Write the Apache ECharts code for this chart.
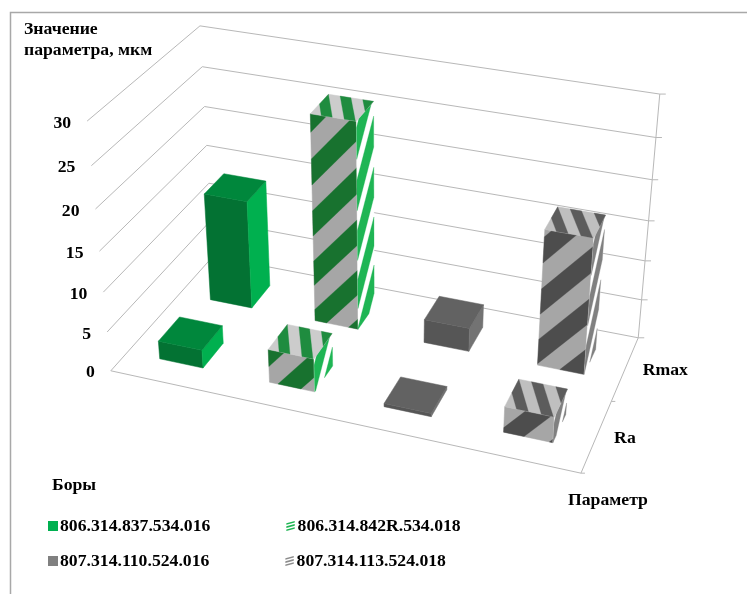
<!DOCTYPE html>
<html>
<head>
<meta charset="utf-8">
<style>html,body{margin:0;padding:0;background:#fff}#chart{width:747px;height:594px}</style>
<script src="https://cdn.jsdelivr.net/npm/echarts@6/dist/echarts.min.js"></script>
</head>
<body>
<div id="chart"></div>
<script>
// Surface roughness of the burs, one row of columns per parameter.
const bores = ['806.314.837.534.016', '806.314.842R.534.018', '807.314.110.524.016', '807.314.113.524.018'];
const params = ['Ra', 'Rmax'];
const valueTicks = [0, 5, 10, 15, 20, 25, 30];
const bore837 = [2.3, 13.9];
const bore842 = [4.2, 26];
const bore110 = [0.4, 3];
const bore113 = [3.2, 17];

const FONT = '"Liberation Serif", "Times New Roman", serif';
const FONT_SIZE = 17.7;
const LABEL_FONT = 'bold ' + FONT_SIZE + 'px ' + FONT;
const GRID_COLOR = '#b8b8b8';

// Perspective camera: a 3x4 projection fitted to the corners of the plot box.
// Box coordinates: u along the burs, v into the depth, w up the value axis.
const boxCorners = [
  [0, 0, 0, 110, 371], [1, 0, 0, 581, 473], [0, 1, 0, 214, 256], [1, 1, 0, 638, 338],
  [0, 0, 1, 88, 121], [0, 1, 1, 199, 26], [1, 1, 1, 660, 94]
];
function fitCamera(pts) {
  const rows = [];
  pts.forEach(([u, v, w, x, y]) => {
    rows.push([u, v, w, 1, 0, 0, 0, 0, -x * u, -x * v, -x * w, x]);
    rows.push([0, 0, 0, 0, u, v, w, 1, -y * u, -y * v, -y * w, y]);
  });
  const n = 11;
  const m = [];
  for (let i = 0; i < n; i++) {
    m.push([]);
    for (let j = 0; j <= n; j++) {
      m[i].push(rows.reduce((s, r) => s + r[i] * r[j], 0));
    }
  }
  for (let i = 0; i < n; i++) {
    let best = i;
    for (let k = i + 1; k < n; k++) if (Math.abs(m[k][i]) > Math.abs(m[best][i])) best = k;
    [m[i], m[best]] = [m[best], m[i]];
    for (let k = 0; k < n; k++) {
      if (k === i) continue;
      const f = m[k][i] / m[i][i];
      for (let j = i; j <= n; j++) m[k][j] -= f * m[i][j];
    }
  }
  return m.map((r, i) => r[n] / r[i]);
}
const cam = fitCamera(boxCorners);
function project(u, v, w) {
  const d = cam[8] * u + cam[9] * v + cam[10] * w + 1;
  return [(cam[0] * u + cam[1] * v + cam[2] * w + cam[3]) / d,
          (cam[4] * u + cam[5] * v + cam[6] * w + cam[7]) / d];
}

// Clip a polygon in face coordinates to 0 <= b <= limit.
function clipBand(poly, limit) {
  const cut = (pts, inside, cross) => {
    const out = [];
    pts.forEach((p, i) => {
      const q = pts[(i + 1) % pts.length];
      if (inside(p)) out.push(p);
      if (inside(p) !== inside(q)) out.push(cross(p, q));
    });
    return out;
  };
  const at = level => (p, q) => {
    const t = (level - p[1]) / (q[1] - p[1]);
    return [p[0] + t * (q[0] - p[0]), level];
  };
  return cut(cut(poly, p => p[1] >= 0, at(0)), p => p[1] <= limit, at(limit));
}

// One box face: a plain fill, or alternating bands laid over the base colour.
// Bands are anchored at the far end of the face (its top edge on the uprights).
function faceShapes(toBox, length, look, offset, z) {
  const toScreen = pts => pts.map(([a, b]) => {
    const s = toBox(a, b / length);
    return project(s[0], s[1], s[2]);
  });
  const shapes = [{
    type: 'polygon', z2: z,
    shape: { points: toScreen([[0, 0], [1, 0], [1, length], [0, length]]) },
    style: { fill: look.base, stroke: look.base, lineWidth: 0.5 }
  }];
  if (!look.band) return shapes;
  const reach = Math.ceil((Math.abs(look.rise) + length) / look.period) + 1;
  for (let k = -1; k <= reach; k++) {
    const c = length - offset - look.width - k * look.period;
    const band = clipBand([[0, c], [1, c + look.rise], [1, c + look.rise + look.width], [0, c + look.width]], length);
    if (band.length < 3) continue;
    shapes.push({
      type: 'polygon', z2: z + 1,
      shape: { points: toScreen(band) },
      style: { fill: look.band, stroke: look.band, lineWidth: 0.3 }
    });
  }
  return shapes;
}

const BAR_SHARE = 0.4;
const PX_PER_UNIT = 8;
const TOP_SPAN = 46;

function columnRenderer(looks) {
  return function (params_, api) {
    const area = params_.coordSys;
    const bore = api.value(0), value = api.value(1), row = api.value(2);
    const mid = (api.coord([bore, 0])[0] - area.x) / area.width;
    const half = (api.size([1, 0])[0] / area.width) * BAR_SHARE / 2;
    const u0 = mid - half, u1 = mid + half;
    const vMid = (row + 0.5) / params.length;
    const vHalf = BAR_SHARE / params.length / 2;
    const v0 = vMid - vHalf, v1 = vMid + vHalf;
    const h = (area.y + area.height - api.coord([bore, value])[1]) / area.height;
    const z = (params.length - row) * 1000 + bore * 10;
    const height = value * PX_PER_UNIT;
    const off = looks.offsets ? looks.offsets[row] : [0, 0, 0];
    const children = [].concat(
      faceShapes((a, b) => [u0 + a * (u1 - u0), v0, b * h], height, looks.front, off[0], z),
      faceShapes((a, b) => [u1, v0 + a * (v1 - v0), b * h], height, looks.side, off[1], z + 2),
      faceShapes((a, b) => [u0 + b * (u1 - u0), v1 - a * (v1 - v0), h], TOP_SPAN, looks.top, off[2], z + 4)
    );
    return { type: 'group', children };
  };
}

function solid(front, side, top) {
  return { front: { base: front }, side: { base: side }, top: { base: top } };
}
function striped(c, offsets) {
  return {
    offsets,
    front: { base: c.grey, band: c.dark, period: 51, width: 25.5, rise: 50 },
    side: { base: '#ffffff', band: c.side, period: 50, width: 30, rise: 42 },
    top: { base: c.light, band: c.topDark, period: 23, width: 11, rise: 22 }
  };
}

const barSeries = [
  { name: bores[0], values: bore837, color: '#00b050',
    looks: solid('#037233', '#00b04f', '#00873c') },
  { name: bores[1], values: bore842, color: '#1fb554',
    looks: striped({ grey: '#a6a6a6', dark: '#18722f', side: '#1fb554', light: '#cccccc', topDark: '#1f8c3f' },
      [[-8, 6, 0], [-8, 6, 0]]) },
  { name: bores[2], values: bore110, color: '#808080',
    looks: solid('#565656', '#737373', '#626262') },
  { name: bores[3], values: bore113, color: '#8c8c8c',
    looks: striped({ grey: '#a6a6a6', dark: '#4d4d4d', side: '#808080', light: '#bfbfbf', topDark: '#5c5c5c' },
      [[21, 6, 0], [7, 6, 0]]) }
].map((s, i) => ({
  type: 'custom',
  name: s.name,
  coordinateSystem: 'cartesian2d',
  silent: true,
  itemStyle: { color: s.color },
  encode: { x: 0, y: 1 },
  // Far row first, so nearer columns paint over it.
  data: [[i, s.values[1], 1], [i, s.values[0], 0]],
  renderItem: columnRenderer(s.looks)
}));

function line(a, b) {
  return {
    type: 'polyline', z2: 1,
    shape: { points: [a, b] },
    style: { stroke: GRID_COLOR, lineWidth: 1, fill: null }
  };
}
function label(text, x, y, align) {
  return {
    type: 'text', z2: 1,
    style: { text, x, y, fill: '#000', font: LABEL_FONT, align, verticalAlign: 'middle' }
  };
}

// Walls: one bent gridline per value tick, its tick mark and its label.
const gridSeries = {
  type: 'custom', coordinateSystem: 'cartesian2d', silent: true,
  encode: { x: 0, y: 1 },
  data: valueTicks.map(t => [0, t]),
  renderItem(params_, api) {
    const area = params_.coordSys;
    const w = (area.y + area.height - api.coord([0, api.value(1)])[1]) / area.height;
    const front = project(0, 0, w), back = project(0, 1, w), right = project(1, 1, w);
    return {
      type: 'group',
      children: [
        line(front, back), line(back, right),
        line(right, [right[0] + 6, right[1]]),
        label(String(api.value(1)), front[0] - 16, front[1] + 2, 'right')
      ]
    };
  }
};

// Floor edges, the right-hand upright, and the parameter names along the depth.
const frameSeries = {
  type: 'custom', coordinateSystem: 'cartesian2d', silent: true,
  encode: { x: 0, y: 1 },
  data: [[0, 0]],
  renderItem() {
    const children = [
      line(project(0, 0, 0), project(1, 0, 0)),
      line(project(1, 0, 0), project(1, 1, 0)),
      line(project(1, 1, 0), project(1, 1, 1))
    ];
    [0, 0.5].forEach(v => {
      const p = project(1, v, 0);
      children.push(line(p, [p[0] + 4, p[1]]));
    });
    params.forEach((name, i) => {
      const p = project(1, (i + 0.5) / params.length, 0);
      children.push(label(name, p[0] + 17.5, p[1] + 2, 'left'));
    });
    return { type: 'group', children };
  }
};

const hatchIcon = 'path://M0 2.6L10 0L10 1.9L0 4.5ZM0 6.3L10 3.7L10 5.6L0 8.2ZM0 10L10 7.4L10 9.3L0 11.9Z';
function legendRow(top, first, second, firstIcon, secondIcon) {
  return {
    left: 48, top, padding: 0, itemWidth: 10, itemHeight: 10, itemGap: 76, selectedMode: false,
    textStyle: { fontFamily: FONT, fontWeight: 'bold', fontSize: FONT_SIZE, color: '#000', padding: [0, 0, 0, -3] },
    data: [{ name: first, icon: firstIcon }, { name: second, icon: secondIcon }]
  };
}
const titleStyle = { fontFamily: FONT, fontWeight: 'bold', fontSize: FONT_SIZE, color: '#000', lineHeight: 21 };

const chart = echarts.init(document.getElementById('chart'), null, { renderer: 'canvas' });
chart.setOption({
  animation: false,
  backgroundColor: '#fff',
  grid: { left: 0, right: 0, top: 0, bottom: 0, containLabel: false },
  xAxis: { type: 'category', data: bores, show: false },
  yAxis: { type: 'value', min: 0, max: 30, interval: 5, show: false },
  title: [
    { text: 'Значение\nпараметра, мкм', left: 24, top: 19, padding: 0, textStyle: titleStyle },
    { text: 'Боры', left: 52, top: 475, padding: 0, textStyle: titleStyle },
    { text: 'Параметр', left: 568, top: 490, padding: 0, textStyle: titleStyle }
  ],
  legend: [
    legendRow(517, bores[0], bores[1], 'rect', hatchIcon),
    legendRow(552, bores[2], bores[3], 'rect', hatchIcon)
  ],
  graphic: [
    { type: 'polyline', silent: true,
      shape: { points: [[10.5, 594], [10.5, 12.5], [747, 12.5]] },
      style: { stroke: '#a8a8a8', lineWidth: 1.5, fill: null } }
  ],
  series: [gridSeries, frameSeries].concat(barSeries)
});
</script>
</body>
</html>
